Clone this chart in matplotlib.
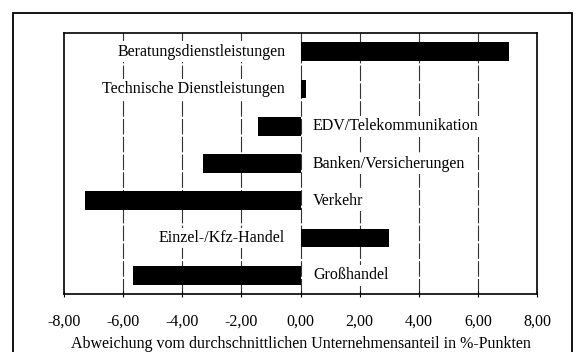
import matplotlib
matplotlib.use("Agg")
import matplotlib.pyplot as plt
from matplotlib.patches import Rectangle

branchen = [
    "Beratungsdienstleistungen",
    "Technische Dienstleistungen",
    "EDV/Telekommunikation",
    "Banken/Versicherungen",
    "Verkehr",
    "Einzel-/Kfz-Handel",
    "Großhandel",
]
abweichung = [7.05, 0.18, -1.45, -3.3, -7.3, 3.0, -5.65]
x_ticks = [-8, -6, -4, -2, 0, 2, 4, 6, 8]
x_tick_labels = ["-8,00", "-6,00", "-4,00", "-2,00", "0,00", "2,00", "4,00", "6,00", "8,00"]
x_titel = "Abweichung vom durchschnittlichen Unternehmensanteil in %-Punkten"

plt.rcParams["font.family"] = ["Liberation Serif", "DejaVu Serif"]
FS = 11.5

fig = plt.figure(figsize=(5.76, 3.52), dpi=100)
fig.patch.set_facecolor("white")

# outer frame around the whole chart
fig.patches.append(Rectangle((12.5 / 576, -0.05), (572 - 12.5) / 576, 1.05 - 12.5 / 352,
                             transform=fig.transFigure, fill=False,
                             edgecolor="black", linewidth=1.3))

ax = fig.add_axes([64 / 576, 1 - 294 / 352, (537 - 64) / 576, (294 - 33) / 352])

ypos = list(range(len(branchen)))
ax.barh(ypos, abweichung, height=0.5, color="black", zorder=2)

ax.set_xlim(-8, 8)
ax.set_ylim(len(branchen) - 0.5, -0.5)

# vertical grid lines
for t in x_ticks[1:-1]:
    ax.axvline(t, color="#333333", linewidth=0.8, linestyle=(0, (14, 2)), zorder=0)

# category labels on the opposite side of the zero line
for y, (name, v) in enumerate(zip(branchen, abweichung)):
    if v >= 0:
        ax.annotate(name, (0, y), xytext=(-11, 0), textcoords="offset points",
                    ha="right", va="center", fontsize=FS, zorder=3,
                    bbox=dict(boxstyle="square,pad=0.15", facecolor="white", edgecolor="none"))
    else:
        ax.annotate(name, (0, y), xytext=(9, 0), textcoords="offset points",
                    ha="left", va="center", fontsize=FS, zorder=3,
                    bbox=dict(boxstyle="square,pad=0.15", facecolor="white", edgecolor="none"))

ax.set_xticks(x_ticks)
ax.set_xticklabels(x_tick_labels, fontsize=FS)
ax.set_yticks([])
ax.tick_params(axis="x", direction="inout", length=5, width=0.8, pad=12)
ax.set_xlabel(x_titel, fontsize=FS, labelpad=4)

for s in ax.spines.values():
    s.set_linewidth(1.2)
    s.set_color("black")

fig.savefig("out.png", dpi=100, facecolor="white")
